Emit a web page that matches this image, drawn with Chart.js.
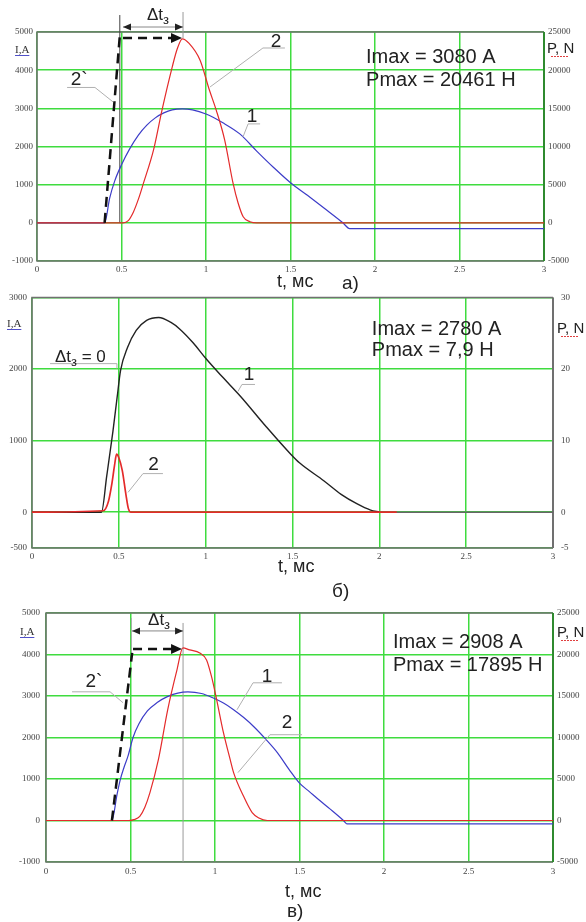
<!DOCTYPE html>
<html>
<head>
<meta charset="utf-8">
<script src="https://cdn.jsdelivr.net/npm/chart.js@4.4.1/dist/chart.umd.min.js"></script>
<style>
  html, body { margin: 0; padding: 0; background: #fff; width: 586px; height: 922px; overflow: hidden; }
  canvas { position: absolute; left: 0; }
</style>
</head>
<body>
<canvas id="chartA" width="586" height="300" style="top:0px"></canvas>
<canvas id="chartB" width="586" height="318" style="top:284px"></canvas>
<canvas id="chartC" width="586" height="322" style="top:600px"></canvas>
<script>
// t, мс
const ticksT = [0, 0.5, 1, 1.5, 2, 2.5, 3];

// а)
const aTicksI = [-1000, 0, 1000, 2000, 3000, 4000, 5000];
const aTicksP = [-5000, 0, 5000, 10000, 15000, 20000, 25000];
const aCurT = [0, 0.40, 0.43, 0.46, 0.50, 0.55, 0.60, 0.65, 0.70, 0.75, 0.80, 0.86, 0.92, 1.00, 1.10, 1.20, 1.30, 1.40, 1.50, 1.60, 1.70, 1.81, 1.85, 3.00];
const aCurI = [0, 0, 650, 1100, 1520, 1950, 2300, 2560, 2750, 2880, 2960, 2985, 2960, 2850, 2620, 2330, 1880, 1450, 1050, 720, 380, 0, -150, -150];
const aForT = [0, 0.51, 0.54, 0.57, 0.60, 0.63, 0.69, 0.74, 0.80, 0.83, 0.86, 0.90, 0.965, 1.02, 1.06, 1.11, 1.16, 1.19, 1.22, 1.26, 1.30, 3.00];
const aForP = [0, 0, 300, 1400, 3100, 5200, 9600, 14800, 20400, 22800, 24100, 23500, 21300, 17400, 14800, 10900, 5200, 2600, 800, 150, 0, 0];
const aIdealT = [0.40, 0.49];
const aIdealP = [0, 24500];
const aImax = '3080';
const aPmax = '20461';

// б)
const bTicksI = [-500, 0, 1000, 2000, 3000];
const bTicksP = [-5, 0, 10, 20, 30];
const bCurT = [0, 0.40, 0.43, 0.466, 0.49, 0.51, 0.55, 0.60, 0.66, 0.73, 0.80, 0.85, 0.93, 1.00, 1.10, 1.20, 1.35, 1.49, 1.54, 1.68, 1.78, 1.87, 1.95, 2.00];
const bCurI = [0, 0, 500, 1130, 1600, 1980, 2300, 2540, 2680, 2720, 2650, 2560, 2360, 2150, 1880, 1620, 1190, 810, 690, 440, 250, 120, 30, 0];
const bTailT = [2.00, 3.00];
const bTailI = [0, 0];
const bForT = [0, 0.41, 0.44, 0.46, 0.475, 0.487, 0.50, 0.52, 0.54, 0.555, 0.57, 2.10];
const bForP = [0, 0.2, 1.5, 4.0, 6.5, 8.1, 7.6, 5.8, 2.6, 0.5, 0, 0];
const bImax = '2780';
const bPmax = '7,9';

// в)
const cTicksI = [-1000, 0, 1000, 2000, 3000, 4000, 5000];
const cTicksP = [-5000, 0, 5000, 10000, 15000, 20000, 25000];
const cCurT = [0, 0.39, 0.42, 0.44, 0.46, 0.485, 0.515, 0.55, 0.60, 0.66, 0.715, 0.78, 0.84, 0.92, 0.99, 1.05, 1.11, 1.17, 1.23, 1.30, 1.37, 1.44, 1.50, 1.56, 1.62, 1.68, 1.76, 1.78, 3.00];
const cCurI = [0, 0, 620, 990, 1260, 1550, 2000, 2330, 2640, 2850, 2980, 3070, 3100, 3060, 2950, 2830, 2670, 2480, 2260, 1960, 1630, 1220, 900, 690, 480, 280, 0, -80, -80];
const cForT = [0, 0.49, 0.52, 0.555, 0.585, 0.615, 0.665, 0.72, 0.775, 0.81, 0.85, 0.91, 0.95, 0.98, 1.01, 1.05, 1.09, 1.11, 1.17, 1.22, 1.26, 1.31, 3.00];
const cForP = [0, 0, 100, 500, 1600, 3360, 7330, 13340, 18150, 20800, 20550, 20190, 19350, 17300, 14540, 10580, 7330, 5770, 2880, 960, 300, 0, 0];
const cIdealT = [0.39, 0.51];
const cIdealP = [0, 20200];
const cImax = '2908';
const cPmax = '17895';


const GRID = '#3fdc3f';
const TICK_FONT = { family: 'Liberation Serif', size: 9 };
const SANS = '"Liberation Sans", Arial, sans-serif';

const pt = (ts, vs) => ts.map((t, i) => ({ x: t, y: vs[i] }));

function arrowHead(ctx, x, y, dir, len, half) {
  ctx.beginPath();
  ctx.moveTo(x, y);
  ctx.lineTo(x - dir * len, y - half);
  ctx.lineTo(x - dir * len, y + half);
  ctx.closePath();
  ctx.fill();
}

function drawDelta(ctx, x, y, align, tail) {
  ctx.textAlign = 'left';
  ctx.font = '17px ' + SANS;
  const w1 = ctx.measureText('Δt').width;
  ctx.font = '13px ' + SANS;
  const w2 = ctx.measureText('з').width;
  ctx.font = '17px ' + SANS;
  const w3 = tail ? ctx.measureText(tail).width : 0;
  let x0 = align === 'center' ? x - (w1 + w2 + w3) / 2 : x;
  ctx.fillText('Δt', x0, y);
  ctx.font = '13px ' + SANS;
  ctx.fillText('з', x0 + w1, y + 4);
  if (tail) {
    ctx.font = '17px ' + SANS;
    ctx.fillText(tail, x0 + w1 + w2, y);
  }
}

const notesPlugin = {
  id: 'notes',
  beforeDatasetsDraw(chart, args, o) {
    const { ctx, chartArea: a } = chart;
    const X = chart.scales.x, Y = chart.scales.y;
    ctx.save();
    // рамка
    ctx.strokeStyle = '#707070';
    ctx.lineWidth = 1.5;
    ctx.beginPath();
    ctx.moveTo(a.right, a.top);
    ctx.lineTo(a.left, a.top);
    ctx.lineTo(a.left, a.bottom);
    ctx.lineTo(a.right, a.bottom);
    ctx.stroke();
    ctx.strokeStyle = o.rightColor;
    ctx.lineWidth = 2;
    ctx.beginPath();
    ctx.moveTo(a.right, a.top);
    ctx.lineTo(a.right, a.bottom);
    ctx.stroke();
    // выносные линии
    (o.ext || []).forEach(e => {
      ctx.strokeStyle = e.color;
      ctx.lineWidth = 1;
      ctx.beginPath();
      ctx.moveTo(X.getPixelForValue(e.t), Y.getPixelForValue(e.v1));
      ctx.lineTo(X.getPixelForValue(e.t), Y.getPixelForValue(e.v2));
      ctx.stroke();
    });
    ctx.restore();
  },
  afterDraw(chart, args, o) {
    const ctx = chart.ctx;
    const X = chart.scales.x, Y = chart.scales.y;
    const px = t => X.getPixelForValue(t);
    const py = v => Y.getPixelForValue(v);
    ctx.save();

    // leaders
    ctx.strokeStyle = '#b0b0b0';
    ctx.lineWidth = 1;
    o.leaders.forEach(l => {
      ctx.beginPath();
      l.forEach(([t, v], i) => i ? ctx.lineTo(px(t), py(v)) : ctx.moveTo(px(t), py(v)));
      ctx.stroke();
    });

    // Δt dimension arrow
    if (o.dim) {
      const x1 = px(o.dim.t1), x2 = px(o.dim.t2), y = py(o.dim.v);
      ctx.strokeStyle = '#888';
      ctx.beginPath();
      ctx.moveTo(x1, y);
      ctx.lineTo(x2, y);
      ctx.stroke();
      ctx.fillStyle = '#222';
      arrowHead(ctx, x1, y, -1, 8, 3.5);
      arrowHead(ctx, x2, y, 1, 8, 3.5);
    }

    // dashed arrow
    if (o.dash) {
      const x1 = px(o.dash.t1), x2 = px(o.dash.t2), y = py(o.dash.v);
      ctx.strokeStyle = '#111';
      ctx.lineWidth = 2.5;
      ctx.setLineDash([9, 6]);
      ctx.beginPath();
      ctx.moveTo(x1, y);
      ctx.lineTo(x2 - 10, y);
      ctx.stroke();
      ctx.setLineDash([]);
      ctx.fillStyle = '#111';
      arrowHead(ctx, x2, y, 1, 11, 5);
    }

    ctx.fillStyle = '#222';
    ctx.textBaseline = 'alphabetic';
    ctx.textAlign = 'center';
    ctx.font = '19px ' + SANS;
    o.labels.forEach(l => ctx.fillText(l.text, px(l.t), py(l.v)));

    if (o.delta) drawDelta(ctx, px(o.delta.t), py(o.delta.v), o.delta.align, o.delta.tail);

    // Imax / Pmax
    ctx.textAlign = 'left';
    ctx.font = '20px ' + SANS;
    ctx.fillStyle = '#222';
    ctx.fillText('Imax = ' + o.imax + ' A', px(o.info.t), py(o.info.v1));
    ctx.fillText('Pmax = ' + o.pmax + ' H', px(o.info.t), py(o.info.v2));

    // axis titles
    const T = o.titles;
    ctx.font = '11px "Liberation Serif", serif';
    ctx.fillStyle = '#333';
    ctx.fillText('I,A', T.ia[0], T.ia[1]);
    let w = ctx.measureText('I,A').width;
    ctx.strokeStyle = '#5050c8';
    ctx.lineWidth = 1;
    ctx.beginPath();
    ctx.moveTo(T.ia[0], T.ia[1] + 2.5);
    ctx.lineTo(T.ia[0] + w, T.ia[1] + 2.5);
    ctx.stroke();

    ctx.font = '15px ' + SANS;
    ctx.fillStyle = '#222';
    ctx.fillText('P, N', T.pn[0], T.pn[1]);
    w = ctx.measureText('P, N').width;
    ctx.strokeStyle = '#e04040';
    ctx.setLineDash([2, 1]);
    ctx.beginPath();
    ctx.moveTo(T.pn[0] + 4, T.pn[1] + 3.5);
    ctx.lineTo(T.pn[0] + w - 6, T.pn[1] + 3.5);
    ctx.stroke();
    ctx.setLineDash([]);

    ctx.font = '18px ' + SANS;
    ctx.fillText('t, мс', T.t[0], T.t[1]);
    ctx.font = '19px ' + SANS;
    ctx.fillText(T.cap[2], T.cap[0], T.cap[1]);

    ctx.restore();
  }
};

function makeChart(id, s) {
  return new Chart(document.getElementById(id), {
    type: 'line',
    data: { datasets: s.datasets },
    options: {
      responsive: false,
      animation: false,
      events: [],
      layout: { padding: { top: s.top, left: 0, right: 0, bottom: 0 } },
      elements: {
        point: { radius: 0 },
        line: { borderWidth: 1.2, cubicInterpolationMode: 'monotone', fill: false }
      },
      plugins: {
        legend: { display: false },
        tooltip: { enabled: false },
        notes: s.notes
      },
      scales: {
        x: {
          type: 'linear', min: 0, max: 3,
          afterBuildTicks: sc => { sc.ticks = ticksT.map(v => ({ value: v })); },
          afterFit: sc => { sc.height = s.xH; },
          grid: { color: GRID, lineWidth: 1.5, drawTicks: false },
          border: { display: false },
          ticks: { padding: s.padX, font: TICK_FONT, color: '#444', autoSkip: false, maxRotation: 0, callback: v => String(v) }
        },
        y: {
          position: 'left', min: s.yTicks[0], max: s.yTicks[s.yTicks.length - 1],
          afterBuildTicks: sc => { sc.ticks = s.yTicks.map(v => ({ value: v })); },
          afterFit: sc => { sc.width = s.leftW; },
          grid: { color: GRID, lineWidth: 1.5, drawTicks: false },
          border: { display: false },
          ticks: { padding: s.padL, font: TICK_FONT, color: '#444', callback: v => String(v) }
        },
        y1: {
          position: 'right', min: s.pTicks[0], max: s.pTicks[s.pTicks.length - 1],
          afterBuildTicks: sc => { sc.ticks = s.pTicks.map(v => ({ value: v })); },
          afterFit: sc => { sc.width = s.rightW; },
          grid: { display: false, drawTicks: false },
          border: { display: false },
          ticks: { padding: s.padR, font: TICK_FONT, color: '#444', callback: v => String(v) }
        }
      }
    },
    plugins: [notesPlugin]
  });
}

const BLUE = '#3c3cc8';
const RED = '#e42a2a';

// а)
makeChart('chartA', {
  top: 32, xH: 39, leftW: 37, rightW: 42, padX: 3, padL: 4, padR: 4,
  yTicks: aTicksI, pTicks: aTicksP,
  datasets: [
    { data: pt(aIdealT, aIdealP), borderColor: '#111', borderWidth: 2.5, borderDash: [10, 6], yAxisID: 'y1', cubicInterpolationMode: 'default', tension: 0 },
    { data: pt(aForT, aForP), borderColor: RED, yAxisID: 'y1' },
    { data: pt(aCurT, aCurI), borderColor: BLUE, yAxisID: 'y' }
  ],
  notes: {
    rightColor: '#2f8a2f',
    imax: aImax, pmax: aPmax,
    info: { t: 1.947, v1: 4189, v2: 3587 },
    labels: [{ text: '2`', t: 0.25, v: 3620 }, { text: '2', t: 1.414, v: 4610 }, { text: '1', t: 1.272, v: 2650 }],
    leaders: [
      [[0.178, 3547], [0.343, 3547], [0.45, 3168]],
      [[1.467, 4581], [1.337, 4581], [1.024, 3560]],
      [[1.32, 2592], [1.249, 2592], [1.219, 2251]]
    ],
    ext: [{ t: 0.49, v1: 5445, v2: 0, color: '#444' }, { t: 0.864, v1: 5524, v2: 4843, color: '#999' }],
    dim: { t1: 0.509, t2: 0.864, v: 5131 },
    dash: { t1: 0.509, t2: 0.858, v: 4843 },
    delta: { t: 0.716, v: 5315, align: 'center' },
    titles: { ia: [15, 53], pn: [547, 53], t: [277, 287], cap: [342, 289, 'а)'] }
  }
});

// б)
makeChart('chartB', {
  top: 11, xH: 54, leftW: 32, rightW: 33, padX: 3, padL: 5, padR: 8,
  yTicks: bTicksI, pTicks: bTicksP,
  datasets: [
    { data: pt(bForT, bForP), borderColor: RED, borderWidth: 1.7, yAxisID: 'y1' },
    { data: pt(bCurT, bCurI), borderColor: '#222', borderWidth: 1.4, yAxisID: 'y' },
    { data: pt(bTailT, bTailI), borderColor: '#666', borderWidth: 1.6, yAxisID: 'y' }
  ],
  notes: {
    rightColor: '#707070',
    imax: bImax, pmax: bPmax,
    info: { t: 1.957, v1: 2476, v2: 2185 },
    labels: [{ text: '1', t: 1.249, v: 1853 }, { text: '2', t: 0.70, v: 595 }],
    leaders: [
      [[0.104, 2075], [0.489, 2075], [0.489, 2006]],
      [[1.284, 1784], [1.209, 1784], [1.186, 1687]],
      [[0.754, 539], [0.639, 539], [0.553, 277]]
    ],
    delta: { t: 0.132, v: 2102, align: 'left', tail: ' = 0' },
    titles: { ia: [7, 43], pn: [557, 49], t: [278, 288], cap: [332, 313, 'б)'] }
  }
});

// в)
makeChart('chartC', {
  top: 13, xH: 60, leftW: 46, rightW: 33, padX: 4, padL: 6, padR: 4,
  yTicks: cTicksI, pTicks: cTicksP,
  datasets: [
    { data: pt(cIdealT, cIdealP), borderColor: '#111', borderWidth: 2.5, borderDash: [10, 6], yAxisID: 'y1', cubicInterpolationMode: 'default', tension: 0 },
    { data: pt(cForT, cForP), borderColor: RED, yAxisID: 'y1' },
    { data: pt(cCurT, cCurI), borderColor: BLUE, yAxisID: 'y' }
  ],
  notes: {
    rightColor: '#2f8a2f',
    imax: cImax, pmax: cPmax,
    info: { t: 2.053, v1: 4159, v2: 3606 },
    labels: [{ text: '2`', t: 0.284, v: 3221 }, { text: '1', t: 1.308, v: 3342 }, { text: '2', t: 1.426, v: 2236 }],
    leaders: [
      [[0.154, 3101], [0.379, 3101], [0.456, 2837]],
      [[1.396, 3318], [1.225, 3318], [1.130, 2668]],
      [[1.515, 2067], [1.325, 2067], [1.136, 1154]]
    ],
    ext: [{ t: 0.505, v1: 4880, v2: 4040, color: '#aaa' }, { t: 0.811, v1: 4760, v2: -1000, color: '#999' }],
    dim: { t1: 0.509, t2: 0.811, v: 4568 },
    dash: { t1: 0.515, t2: 0.805, v: 4135 },
    delta: { t: 0.669, v: 4712, align: 'center' },
    titles: { ia: [20, 35], pn: [557, 37], t: [285, 297], cap: [287, 317, 'в)'] }
  }
});
</script>
</body>
</html>
